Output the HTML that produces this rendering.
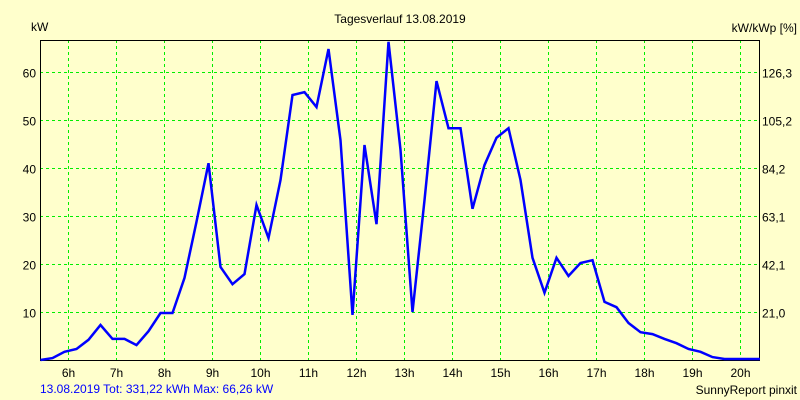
<!DOCTYPE html>
<html><head><meta charset="utf-8"><style>
html,body{margin:0;padding:0;background:#ffffcc;}
svg{display:block;font-family:"Liberation Sans",sans-serif;font-size:12px;}
</style></head><body>
<svg id="chart" width="800" height="400" viewBox="0 0 800 400">
<rect x="0" y="0" width="800" height="400" fill="#ffffcc"/>
<text x="400" y="23" text-anchor="middle">Tagesverlauf 13.08.2019</text>
<text x="31" y="31">kW</text>
<text x="797" y="32" text-anchor="end">kW/kWp [%]</text>
<g id="grid"></g>
<g id="ticks"></g>
<rect x="40.5" y="40.5" width="719" height="320" fill="none" stroke="#000" stroke-width="1"/>
<g id="series"></g>
<text x="40" y="393" fill="#0000ff">13.08.2019 Tot: 331,22 kWh Max: 66,26 kW</text>
<text x="797" y="394" text-anchor="end">SunnyReport pinxit</text>
</svg>
<script>
const hourTicks = [6,7,8,9,10,11,12,13,14,15,16,17,18,19,20];
const leftTicks = [10,20,30,40,50,60];
const rightTickLabels = ["21,0","42,1","63,1","84,2","105,2","126,3"];
const startHour = 5.42;
const stepHours = 0.25;
const powerKW = [0,0.4,1.7,2.3,4.2,7.3,4.4,4.4,3.1,6.0,9.8,9.8,17.1,28.8,41.0,19.4,15.8,17.9,32.3,25.4,37.5,55.2,55.8,52.7,64.8,45.8,9.4,44.8,28.3,66.3,43.8,10.0,33.3,58.1,48.3,48.3,31.5,40.6,46.3,48.3,37.5,21.3,14.0,21.3,17.5,20.2,20.8,12.1,11.0,7.7,5.8,5.4,4.4,3.5,2.3,1.7,0.6,0.2,0.2,0.2,0.2];

const NS="http://www.w3.org/2000/svg";
const L=40,R=760,T=40,B=360;
const x = h => 68.3 + (h-6)*48;
const y = v => B - v*4.8;
function mk(tag, attrs, parent){const e=document.createElementNS(NS,tag);for(const k in attrs)e.setAttribute(k,attrs[k]);parent.appendChild(e);return e;}
const grid=document.getElementById('grid'), ticks=document.getElementById('ticks'), series=document.getElementById('series');
hourTicks.forEach(h=>{
  const gx=Math.round(x(h))+0.5;
  const ln=mk('line',{x1:gx,y1:T,x2:gx,y2:B,stroke:'#00ee00','stroke-dasharray':'3,3'},grid);
  
  
  const t=mk('text',{x:gx,y:377,'text-anchor':'middle'},ticks);
  t.textContent=h+'h';
  
  
});
leftTicks.forEach((v,i)=>{
  const gy=Math.round(y(v))+0.5;
  const ln=mk('line',{x1:L,y1:gy,x2:R,y2:gy,stroke:'#00ee00','stroke-dasharray':'3,3'},grid);
  
  
  const t=mk('text',{x:36,y:gy+5,'text-anchor':'end'},ticks);
  t.textContent=v;
  
  
  const t2=mk('text',{x:762,y:gy+5},ticks);
  t2.textContent=rightTickLabels[i];
  
  
});
const pts=powerKW.map((v,i)=>Math.min(R,x(startHour+i*stepHours)).toFixed(1)+','+y(v).toFixed(1)).join(' ');
const pl=mk('polyline',{points:pts,fill:'none',stroke:'#0000ff','stroke-width':2.5,'stroke-linejoin':'miter'},series);


</script>
</body></html>
